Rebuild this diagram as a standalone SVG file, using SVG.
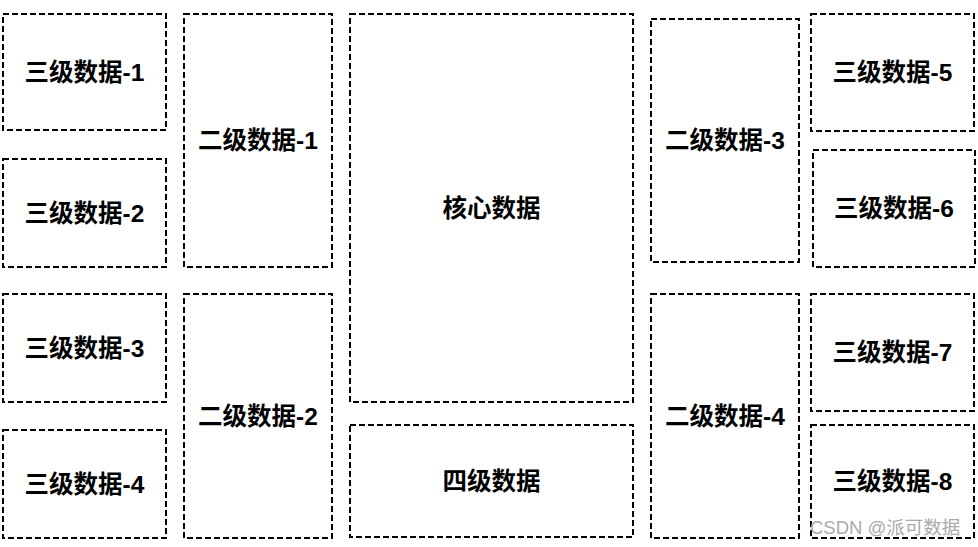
<svg xmlns="http://www.w3.org/2000/svg" width="978" height="547" viewBox="0 0 978 547">
<style>
.box{fill:#fff;stroke:#000;stroke-width:2;stroke-dasharray:6 3}
.lbl{font-family:"Liberation Sans","Noto Sans CJK SC",sans-serif;font-weight:bold;font-size:24.5px;fill:#000;text-anchor:middle;dominant-baseline:central}
.wm{font-family:"Liberation Sans","Noto Sans CJK SC",sans-serif;font-size:18.5px;fill:#aaa;text-anchor:start}
</style>
<rect width="978" height="547" fill="#fff"/>
<g id="connectors"></g>
<g id="n3-1"><rect class="box" x="3" y="14" width="163" height="116"/><text class="lbl" x="84.5" y="72">三级数据-1</text></g>
<g id="n3-2"><rect class="box" x="3" y="159" width="163" height="108"/><text class="lbl" x="84.5" y="213">三级数据-2</text></g>
<g id="n3-3"><rect class="box" x="3" y="294" width="163" height="108"/><text class="lbl" x="84.5" y="348">三级数据-3</text></g>
<g id="n3-4"><rect class="box" x="3" y="430" width="163" height="108"/><text class="lbl" x="84.5" y="484">三级数据-4</text></g>
<g id="n2-1"><rect class="box" x="184" y="14" width="148" height="253"/><text class="lbl" x="258" y="140.5">二级数据-1</text></g>
<g id="n2-2"><rect class="box" x="184" y="294" width="148" height="244"/><text class="lbl" x="258" y="416">二级数据-2</text></g>
<g id="core"><rect class="box" x="350" y="14" width="283" height="388"/><text class="lbl" x="491.5" y="208">核心数据</text></g>
<g id="n4"><rect class="box" x="350" y="425" width="283" height="112"/><text class="lbl" x="491.5" y="481">四级数据</text></g>
<g id="n2-3"><rect class="box" x="651" y="19" width="148" height="243"/><text class="lbl" x="725" y="140.5">二级数据-3</text></g>
<g id="n2-4"><rect class="box" x="651" y="294" width="148" height="244"/><text class="lbl" x="725" y="416">二级数据-4</text></g>
<g id="n3-5"><rect class="box" x="811" y="14" width="163" height="117"/><text class="lbl" x="892.5" y="72.5">三级数据-5</text></g>
<g id="n3-6"><rect class="box" x="813" y="150" width="162" height="117"/><text class="lbl" x="894" y="208">三级数据-6</text></g>
<g id="n3-7"><rect class="box" x="811" y="294" width="163" height="117"/><text class="lbl" x="892.5" y="352.5">三级数据-7</text></g>
<g id="n3-8"><rect class="box" x="811" y="425" width="163" height="113"/><text class="lbl" x="892.5" y="481.5">三级数据-8</text></g>
<text class="wm" x="810" y="534">CSDN @派可数据</text>
</svg>
